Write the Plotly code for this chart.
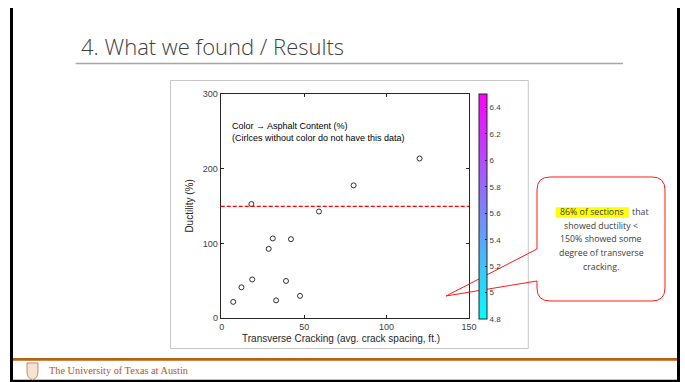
import plotly.graph_objects as go

# ---------------- data ----------------
transverse_cracking = [120, 80, 18, 59, 31, 42, 28.5, 18.5, 39, 12, 7, 33, 47.5]   # avg. crack spacing, ft.
ductility = [214, 178, 153, 143, 107, 106, 93, 52, 50, 41.5, 22, 24, 30]          # %
asphalt_content = []            # none of the sections have asphalt-content data
ductility_threshold = 150
x_ticks = [0, 50, 100, 150]
y_ticks = [0, 100, 200, 300]
cbar_min, cbar_max = 4.8, 6.5

W, H = 685, 382
def X(px):
    return px / W
def Y(py):
    return 1 - py / H

fig = go.Figure()

fig.add_trace(go.Scatter(
    x=transverse_cracking, y=ductility, mode="markers",
    marker=dict(symbol="circle", size=5, color="white",
                line=dict(color="black", width=0.8)),
    showlegend=False, hoverinfo="x+y"))

# colour scale (no sections have data -> empty coloured trace)
fig.add_trace(go.Scatter(
    x=[None], y=[None], mode="markers",
    marker=dict(color=[5.0], cmin=cbar_min, cmax=cbar_max,
                colorscale=[[0, "rgb(0,255,255)"], [1, "rgb(255,0,255)"]],
                showscale=True,
                colorbar=dict(x=X(479.3), xanchor="left", xpad=0, ypad=0,
                              y=Y(206.6), yanchor="middle",
                              len=(319.3 - 94) / H, lenmode="fraction",
                              thickness=8, thicknessmode="pixels",
                              outlinewidth=1, outlinecolor="#262626",
                              tick0=4.8, dtick=0.2, ticks="inside", ticklen=2,
                              tickcolor="#262626",
                              tickfont=dict(family="Liberation Sans", size=8, color="#404040"))),
    showlegend=False, hoverinfo="skip"))

fig.add_hline(y=ductility_threshold, line=dict(color="#ff0000", dash="4px,2px", width=1.2))

axis_common = dict(showgrid=False, zeroline=False, showline=True, linecolor="#262626",
                   linewidth=1, mirror="ticks", ticks="inside", ticklen=3,
                   tickcolor="#262626", automargin=False,
                   tickfont=dict(family="Liberation Sans", size=9, color="#404040"))

fig.update_layout(
    width=W, height=H, margin=dict(l=0, r=0, t=0, b=0, pad=0, autoexpand=False),
    paper_bgcolor="white", plot_bgcolor="white",
    xaxis=dict(domain=[X(220.7), X(469)], range=[-0.6, 150], tickvals=x_ticks, **axis_common),
    yaxis=dict(domain=[Y(318.3), Y(94.3)], range=[0, 300], tickvals=y_ticks, **axis_common),
)

# ------------- slide decorations -------------
shapes = []
def line(x0, y0, x1, y1, color, width):
    shapes.append(dict(type="line", xref="paper", yref="paper",
                       x0=X(x0), y0=Y(y0), x1=X(x1), y1=Y(y1),
                       line=dict(color=color, width=width)))

line(10, 7.5, 680, 7.5, "#a0a0a0", 2)         # slide top
line(11.5, 8, 11.5, 382, "black", 3)          # slide left
line(678.5, 8, 678.5, 382, "black", 3)        # slide right
line(10, 381, 680, 381, "black", 2.5)         # slide bottom
line(13, 359.3, 677, 359.3, "#b8620f", 2.7)   # footer bar
line(75.7, 63.5, 623, 63.5, "#a6a6a6", 1.5)   # title underline

# figure frame
shapes.append(dict(type="rect", xref="paper", yref="paper",
                   x0=X(170.5), y0=Y(348.5), x1=X(528.3), y1=Y(80.5),
                   line=dict(color="#c8c8c8", width=1)))

# callout
def P(px, py):
    return f"{X(px):.5f},{Y(py):.5f}"
L, R, T, B, r = 537, 665, 177, 301, 13
tipx, tipy = 446, 296
path = (f"M{P(L + r, T)} L{P(R - r, T)} Q{P(R, T)} {P(R, T + r)} L{P(R, B - r)} "
        f"Q{P(R, B)} {P(R - r, B)} L{P(L + r, B)} Q{P(L, B)} {P(L, B - r)} "
        f"L{P(L, 281)} L{P(tipx, tipy)} L{P(L, 249)} L{P(L, T + r)} Q{P(L, T)} {P(L + r, T)} Z")
shapes.append(dict(type="path", xref="paper", yref="paper", path=path,
                   line=dict(color="#ff1a1a", width=1), fillcolor="rgba(0,0,0,0)"))

# highlight behind "86% of sections"
shapes.append(dict(type="rect", xref="paper", yref="paper",
                   x0=X(555.7), x1=X(628.7), y0=Y(217.7), y1=Y(207.3),
                   line=dict(width=0), fillcolor="#ffff00"))

# UT shield logo
logo = (f"M{P(27, 363)} L{P(38, 363)} L{P(38, 372)} Q{P(38, 378)} {P(32.5, 380)} "
        f"Q{P(27, 378)} {P(27, 372)} Z")
shapes.append(dict(type="path", xref="paper", yref="paper", path=logo,
                   line=dict(color="#c0703a", width=0.8), fillcolor="#f7e3d3"))
fig.update_layout(shapes=shapes)

# ------------- text -------------
ann = []
def text(t, px, py, size, color="#262626", family="Liberation Sans", xanchor="left", weight=None, **kw):
    f = dict(family=family, size=size, color=color)
    if weight:
        f["weight"] = weight
    ann.append(dict(text=t, x=X(px), y=Y(py), xref="paper", yref="paper",
                    xanchor=xanchor, yanchor="middle", showarrow=False,
                    font=f, **kw))

text("4. What we found / Results", 79, 46, 22, color="#404040", family="Open Sans", weight=300)
text("Color \u2192 Asphalt Content (%)", 229.5, 125.5, 9, color="black")
text("(Cirlces without color do not have this data)", 229.5, 137.7, 9, color="black")
text("Ductility (%)", 189.3, 206.3, 10, xanchor="center", textangle=-90)
text("Transverse Cracking (avg. crack spacing, ft.)", 341, 338.5, 10, xanchor="center")

cf = "Open Sans"
text("86% of sections", 592, 212.5, 8.8, color="#404040", family=cf, xanchor="center")
text("that", 629.5, 212.5, 8.8, color="#404040", family=cf)
text("showed ductility <", 601, 226, 8.8, color="#404040", family=cf, xanchor="center")
text("150% showed some", 601, 239.5, 8.8, color="#404040", family=cf, xanchor="center")
text("degree of transverse", 601, 253, 8.8, color="#404040", family=cf, xanchor="center")
text("cracking.", 601, 266.5, 8.8, color="#404040", family=cf, xanchor="center")

text("The University of Texas at Austin", 46.5, 370.5, 10.3, color="#b5581a", family="Liberation Serif")
fig.update_layout(annotations=ann)

fig.write_html("out.html", config={"displayModeBar": False},
               post_script="document.body.style.margin='0';document.body.style.overflow='hidden';")
